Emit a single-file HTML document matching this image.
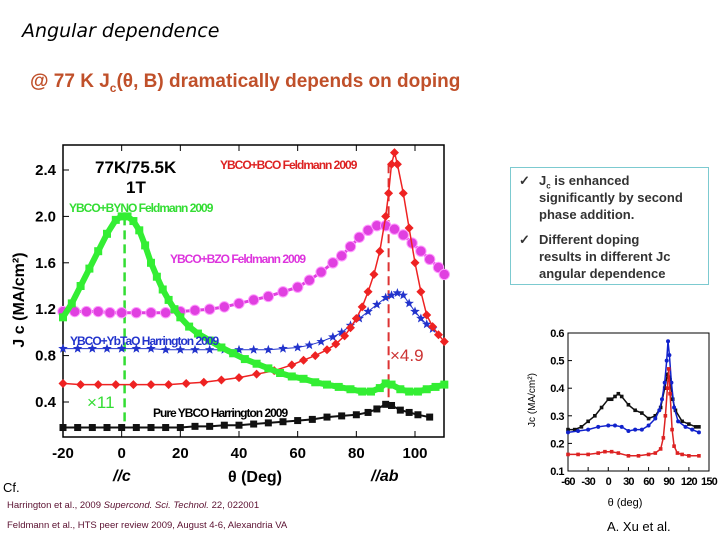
<!DOCTYPE html>
<html><head><meta charset="utf-8"><style>
body{margin:0;width:720px;height:540px;background:#fff;overflow:hidden;position:relative;font-family:"Liberation Sans",sans-serif}
.abs{position:absolute;white-space:nowrap}
sub{line-height:0}
</style></head><body>
<div class="abs" style="left:22px;top:20px;font-size:19px;font-family:'DejaVu Sans',sans-serif;font-style:italic;color:#000">Angular dependence</div>
<div class="abs" style="left:30px;top:71px;font-size:19px;font-weight:bold;color:#c0502a">@ 77 K J<sub style="font-size:12px">c</sub>(θ, B) dramatically depends on doping</div>
<div class="abs" style="left:510px;top:167px;width:197px;height:116px;border:1.5px solid #7ccad0;font-size:13px;font-weight:bold;color:#333;line-height:17px">
 <div style="position:absolute;left:8px;top:4px">✓</div>
 <div style="position:absolute;left:28px;top:4px">J<sub style="font-size:8px">c</sub> is enhanced<br>significantly by second<br>phase addition.</div>
 <div style="position:absolute;left:8px;top:63px">✓</div>
 <div style="position:absolute;left:28px;top:63px">Different doping<br>results in different Jc<br>angular dependence</div>
</div>
<div class="abs" style="left:3px;top:480px;font-size:13px">Cf.</div>
<div class="abs" style="left:7px;top:500px;font-size:9.5px;color:#5a1030">Harrington et al., 2009 <i>Supercond. Sci. Technol.</i> 22, 022001</div>
<div class="abs" style="left:7px;top:520px;font-size:9.5px;color:#5a1030">Feldmann et al., HTS peer review 2009, August 4-6, Alexandria VA</div>
<div class="abs" style="left:607px;top:519px;font-size:13px">A. Xu et al.</div>
<svg id="svg" width="720" height="540" style="position:absolute;left:0;top:0" xmlns="http://www.w3.org/2000/svg"></svg>
<script>
const mainTicksX=[-20,0,20,40,60,80,100];
const mainTicksY=[0.4,0.8,1.2,1.6,2.0,2.4];
const greenX=[-20,-17,-14,-11,-8,-5,-2,0,2,4,6,8,10,12,14,16,18,20,23,26,30,34,38,42,46,50,54,58,62,66,70,74,78,82,85,88,90,92,95,98,101,104,107,110];
const greenY=[1.13,1.25,1.4,1.55,1.7,1.85,1.97,2.0,2.0,1.96,1.88,1.75,1.6,1.48,1.37,1.28,1.2,1.13,1.05,0.99,0.93,0.87,0.82,0.77,0.73,0.69,0.65,0.62,0.6,0.57,0.55,0.53,0.51,0.49,0.49,0.52,0.56,0.55,0.51,0.49,0.49,0.51,0.53,0.55];
const magX=[-20,-16,-12,-8,-4,0,5,10,15,20,25,30,35,40,45,50,55,60,64,68,72,75,78,81,84,87,90,93,96,99,102,105,108,110];
const magY=[1.18,1.18,1.18,1.18,1.17,1.17,1.17,1.17,1.17,1.18,1.19,1.2,1.22,1.25,1.28,1.31,1.35,1.39,1.45,1.52,1.6,1.66,1.74,1.82,1.88,1.92,1.92,1.89,1.84,1.77,1.7,1.63,1.56,1.5];
const redX=[-20,-14,-8,-2,4,10,16,22,28,34,40,46,52,58,62,66,70,73,76,78,80,82,84,86,88,90,91,92,93,94,96,98,100,102,104,106,108,110];
const redY=[0.56,0.55,0.55,0.55,0.55,0.55,0.55,0.56,0.57,0.59,0.61,0.64,0.67,0.72,0.76,0.8,0.85,0.9,0.97,1.04,1.12,1.22,1.35,1.5,1.7,2.0,2.2,2.45,2.55,2.45,2.2,1.9,1.6,1.35,1.15,1.05,0.98,0.92];
const blueX=[-20,-15,-10,-5,0,5,10,15,20,25,30,35,40,45,50,55,60,64,68,72,75,78,81,84,87,90,92,94,96,98,100,102,104,106];
const blueY=[0.86,0.86,0.86,0.86,0.86,0.86,0.86,0.85,0.85,0.85,0.85,0.85,0.85,0.85,0.85,0.86,0.87,0.89,0.92,0.96,1.0,1.06,1.12,1.18,1.24,1.3,1.32,1.34,1.32,1.25,1.18,1.12,1.07,1.03];
const blkX=[-20,-15,-10,-5,0,5,10,15,20,25,30,35,40,45,50,55,60,65,70,75,80,84,87,90,92,95,98,101,105];
const blkY=[0.18,0.18,0.18,0.18,0.18,0.18,0.18,0.18,0.18,0.19,0.19,0.2,0.2,0.21,0.22,0.23,0.24,0.25,0.27,0.28,0.29,0.31,0.34,0.38,0.37,0.33,0.31,0.29,0.27];
const smTicksX=[-60,-30,0,30,60,90,120,150];
const smTicksY=[0.1,0.2,0.3,0.4,0.5,0.6];
const smBlackX=[-60,-50,-40,-30,-20,-10,0,5,10,15,20,30,40,50,60,70,78,84,88,90,92,96,100,110,120,130,135];
const smBlackY=[0.25,0.25,0.26,0.28,0.3,0.33,0.36,0.36,0.37,0.38,0.37,0.34,0.32,0.31,0.29,0.3,0.33,0.4,0.45,0.44,0.43,0.36,0.32,0.28,0.27,0.26,0.26];
const smBlueX=[-60,-45,-30,-15,0,10,20,30,40,50,60,70,76,80,84,87,89,91,94,98,104,115,125,135];
const smBlueY=[0.24,0.245,0.25,0.26,0.265,0.265,0.26,0.245,0.25,0.25,0.265,0.29,0.32,0.36,0.42,0.5,0.57,0.52,0.42,0.33,0.28,0.26,0.25,0.24];
const smRedX=[-60,-45,-30,-15,-5,5,15,30,45,60,70,78,82,85,88,90,92,95,98,103,110,120,135];
const smRedY=[0.16,0.16,0.16,0.165,0.17,0.17,0.165,0.155,0.155,0.16,0.165,0.18,0.22,0.3,0.4,0.47,0.38,0.25,0.19,0.165,0.16,0.155,0.155];

const NS="http://www.w3.org/2000/svg",svg=document.getElementById('svg');
function mk(tag,at,parent){const e=document.createElementNS(NS,tag);for(const k in at)e.setAttribute(k,at[k]);(parent||svg).appendChild(e);return e;}
const mx=v=>63+(v+20)*352/120, my=v=>402-(v-0.4)*116;
const g=mk('g',{});


const frame=mk('rect',{x:63,y:145,width:381,height:292,fill:'none',stroke:'#000','stroke-width':1.5},g);


mainTicksX.forEach(t=>{const x=mx(t);mk('line',{x1:x,x2:x,y1:437,y2:431,stroke:'#000'},g);mk('line',{x1:x,x2:x,y1:145,y2:151,stroke:'#000'},g);
 const tx=mk('text',{x:x,y:458,'text-anchor':'middle','font-size':15,'font-weight':'bold','font-family':'Liberation Sans'},g);tx.textContent=t;
 
 });
mainTicksY.forEach(t=>{const y=my(t);mk('line',{x1:63,x2:69,y1:y,y2:y,stroke:'#000'},g);
 const tx=mk('text',{x:56,y:y+5,'text-anchor':'end','font-size':15,'font-weight':'bold','font-family':'Liberation Sans'},g);tx.textContent=t.toFixed(1);
 
 });
function txt(s,x,y,fs,col,name,extra){const t=mk('text',Object.assign({x:x,y:y,'font-size':fs,fill:col,'font-weight':'bold','font-family':'Liberation Sans'},extra||{}),g);t.textContent=s;
 
 return t;}
mk('line',{x1:mx(1),x2:mx(1),y1:my(2.0),y2:427,stroke:'#33dd33','stroke-width':2.5,'stroke-dasharray':'9,5'},g);
mk('line',{x1:mx(91),x2:mx(91),y1:my(2.45),y2:my(0.38),stroke:'#dd3333','stroke-width':2,'stroke-dasharray':'9,5'},g);
function star(cx,cy,r,col,parent){let d='';for(let i=0;i<10;i++){const a=-Math.PI/2+i*Math.PI/5,rr=i%2?r*0.42:r;d+=(i?'L':'M')+(cx+rr*Math.cos(a)).toFixed(1)+','+(cy+rr*Math.sin(a)).toFixed(1);}return mk('path',{d:d+'Z',fill:col},parent);}
function series(xs,ys,fx,fy,col,shape,s,name,parent,lw){
 const sg=mk('g',{},parent||g);
 
 
 let d='';xs.forEach((x,i)=>{d+=(i?'L':'M')+fx(x).toFixed(1)+','+fy(ys[i]).toFixed(1);});
 mk('path',{d:d,fill:'none',stroke:col,'stroke-width':lw||1},sg);
 xs.forEach((x,i)=>{const cx=fx(x),cy=fy(ys[i]);
  if(shape==='sq')mk('rect',{x:cx-s,y:cy-s,width:2*s,height:2*s,fill:col},sg);
  else if(shape==='ci')mk('circle',{cx:cx,cy:cy,r:s,fill:col,stroke:'#ff99ff','stroke-width':1},sg);
  else if(shape==='di')mk('path',{d:`M${cx},${cy-s}L${cx+s},${cy}L${cx},${cy+s}L${cx-s},${cy}Z`,fill:col},sg);
  else if(shape==='st')star(cx,cy,s,col,sg);
  else mk('circle',{cx:cx,cy:cy,r:s,fill:col},sg);});
}
series(magX,magY,mx,my,'#e040e0','ci',5.2,'series-ybco-bzo',g,3);
series(blueX,blueY,mx,my,'#2233cc','st',5,'series-ybco-ybtao');
series(redX,redY,mx,my,'#ee2222','di',4.5,'series-ybco-bco',g,1.5);
series(greenX,greenY,mx,my,'#33ee33','sq',4,'series-ybco-byno',g,6);
series(blkX,blkY,mx,my,'#111111','sq',3.5,'series-pure-ybco',g,2);
txt('77K/75.5K',95,173,17,'#000','condition-label');
txt('1T',126,193,17,'#000','field-label');
txt('YBCO+BCO Feldmann 2009',220,169,12,'#dd2222','label-bco',{'letter-spacing':'-1'});
txt('YBCO+BYNO Feldmann 2009',69,212,12,'#33dd33','label-byno',{'letter-spacing':'-1'});
txt('YBCO+BZO Feldmann 2009',170,263,12,'#dd33dd','label-bzo',{'letter-spacing':'-1'});
txt('YBCO+YbTaO Harrington 2009',70,345,12,'#2233cc','label-ybtao',{'letter-spacing':'-1'});
txt('Pure YBCO Harrington 2009',153,417,12,'#000','label-pure',{'letter-spacing':'-1'});
txt('×11',87,408,17,'#33dd33','factor-11',{'font-weight':'normal'});
txt('×4.9',390,361,17,'#cc3333','factor-4-9',{'font-weight':'normal'});
txt('//c',113,481,16,'#000','label-c-axis',{'font-style':'italic'});
txt('θ (Deg)',228,482,16,'#000','x-axis-title');
txt('//ab',371,481,16,'#000','label-ab-axis',{'font-style':'italic'});
txt('J c (MA/cm²)',24,300,16,'#000','y-axis-title',{transform:'rotate(-90 24 300)','text-anchor':'middle'});
const sx=v=>568+(v+60)*141/210, sy=v=>471-(v-0.1)*276;
const sgp=mk('g',{});


mk('rect',{x:568,y:333,width:141,height:138,fill:'none',stroke:'#000','stroke-width':1},sgp);
smTicksX.forEach(t=>{const x=sx(t);mk('line',{x1:x,x2:x,y1:471,y2:467,stroke:'#000'},sgp);
 const tx=mk('text',{x:x,y:485,'text-anchor':'middle','font-size':11,'font-weight':'bold','font-family':'Liberation Sans','letter-spacing':'-0.8'},sgp);tx.textContent=t;
 
 });
smTicksY.forEach(t=>{const y=sy(t);mk('line',{x1:568,x2:572,y1:y,y2:y,stroke:'#000'},sgp);
 const tx=mk('text',{x:564,y:y+4,'text-anchor':'end','font-size':11,'font-weight':'bold','font-family':'Liberation Sans','letter-spacing':'-0.5'},sgp);tx.textContent=t.toFixed(1);
 
 });
series(smBlackX,smBlackY,sx,sy,'#111','sq',1.8,'small-series-black',sgp,1.5);
series(smBlueX,smBlueY,sx,sy,'#1122cc','dot',2,'small-series-blue',sgp,1.5);
series(smRedX,smRedY,sx,sy,'#dd2222','sq',1.8,'small-series-red',sgp,1.5);
const st1=mk('text',{x:625,y:506,'text-anchor':'middle','font-size':11,'font-family':'Liberation Sans'},sgp);st1.textContent='θ (deg)';


const st2=mk('text',{x:535,y:400,'text-anchor':'middle','font-size':10,'font-family':'Liberation Sans',transform:'rotate(-90 535 400)'},sgp);st2.textContent='Jc (MA/cm²)';


</script>
</body></html>
